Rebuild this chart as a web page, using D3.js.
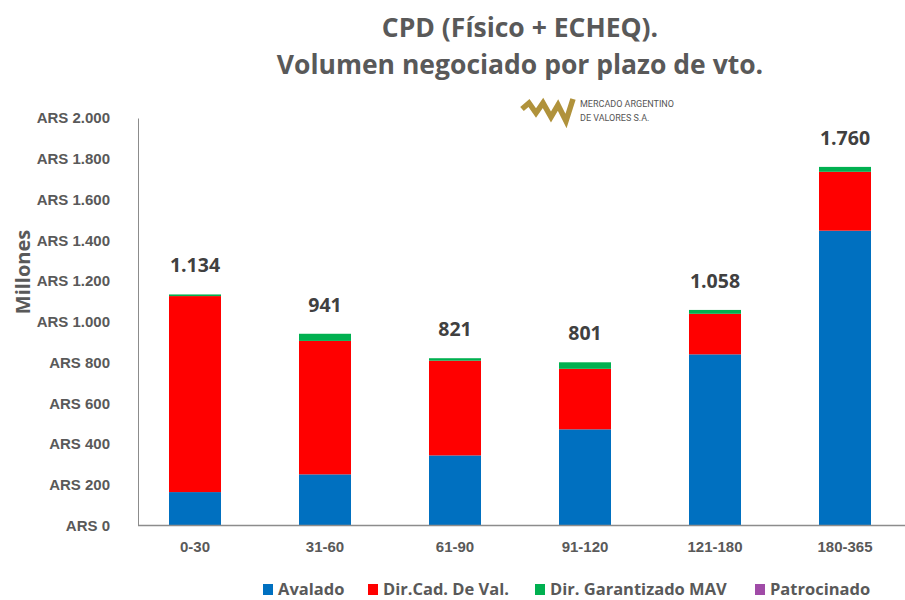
<!DOCTYPE html>
<html>
<head>
<meta charset="utf-8">
<script src="https://cdn.jsdelivr.net/npm/d3@7"></script>
<style>
  body { margin: 0; background: #fff; }
  svg { font-family: "Open Sans", sans-serif; }
</style>
</head>
<body>
<div id="chart"></div>
<script>
// Data (millones de ARS)
const plazos = ["0-30", "31-60", "61-90", "91-120", "121-180", "180-365"];
const avalado = [164, 251, 344, 472, 840, 1447];
const dirCad = [962, 655, 465, 297, 199, 289];
const dirGarantizado = [8, 35, 12, 32, 19, 24];
const patrocinado = [0, 0, 0, 0, 0, 0];
const totales = [1134, 941, 821, 801, 1058, 1760];
const yTicks = [0, 200, 400, 600, 800, 1000, 1200, 1400, 1600, 1800, 2000];

const seriesNames = ["Avalado", "Dir.Cad. De Val.", "Dir. Garantizado MAV", "Patrocinado"];
const seriesColors = ["#0070C0", "#FF0000", "#00B050", "#A04BA7"];

const width = 905, height = 600;

const locale = d3.formatLocale({ decimal: ",", thousands: ".", grouping: [3], currency: ["ARS ", ""] });
const fmt = locale.format(",d");

const svg = d3.select("#chart").append("svg")
  .attr("width", width)
  .attr("height", height);

// table for stacking
const rows = plazos.map((p, i) => ({
  plazo: p,
  "Avalado": avalado[i],
  "Dir.Cad. De Val.": dirCad[i],
  "Dir. Garantizado MAV": dirGarantizado[i],
  "Patrocinado": patrocinado[i],
  total: totales[i]
}));

const x = d3.scaleBand()
  .domain(plazos)
  .range([130, 910])
  .paddingInner(0.6)
  .paddingOuter(0.3);

const y = d3.scaleLinear()
  .domain([0, 2000])
  .range([525.5, 118]);

const color = d3.scaleOrdinal().domain(seriesNames).range(seriesColors);

// Title
const title = svg.append("text")
  .attr("text-anchor", "middle")
  .attr("fill", "#595959")
  .attr("font-weight", "bold")
  .attr("font-size", 26.5);
title.append("tspan").attr("x", 520).attr("y", 37).text("CPD (Físico + ECHEQ).");
title.append("tspan").attr("x", 520).attr("y", 74).text("Volumen negociado por plazo de vto.");

// Logo MAV
const logo = svg.append("g").attr("transform", "translate(521,98)");
logo.append("polyline")
  .attr("points", "1,11 8,5 15,15 22,5 30,19 37,7 45,23 52,1")
  .attr("fill", "none")
  .attr("stroke", "#B0923B")
  .attr("stroke-width", 5.5)
  .attr("stroke-linejoin", "miter");
logo.append("text").attr("x", 59).attr("y", 9).attr("font-size", 9).attr("fill", "#555")
  .attr("font-family", "Roboto, sans-serif").text("MERCADO ARGENTINO");
logo.append("text").attr("x", 59).attr("y", 23).attr("font-size", 9).attr("fill", "#555")
  .attr("font-family", "Roboto, sans-serif").text("DE VALORES S.A.");

// Y axis
const yAxis = svg.append("g")
  .attr("transform", "translate(138,0)")
  .call(d3.axisLeft(y).tickValues(yTicks).tickSize(0).tickPadding(28)
    .tickFormat(d => "ARS " + fmt(d)));
yAxis.select(".domain").attr("stroke", "#8c8c8c").attr("stroke-width", 1);
yAxis.selectAll("text")
  .attr("fill", "#595959")
  .attr("font-weight", "bold")
  .attr("font-size", 15);

// Y axis title
svg.append("text")
  .attr("transform", "translate(30,272) rotate(-90)")
  .attr("text-anchor", "middle")
  .attr("fill", "#595959")
  .attr("font-weight", "bold")
  .attr("font-size", 20)
  .text("Millones");

// Bars
const stack = d3.stack().keys(seriesNames);
const stacked = stack(rows);

svg.append("g")
  .selectAll("g")
  .data(stacked)
  .join("g")
  .attr("fill", d => color(d.key))
  .selectAll("rect")
  .data(d => d)
  .join("rect")
  .attr("x", d => x(d.data.plazo))
  .attr("y", d => y(d[1]))
  .attr("width", x.bandwidth())
  .attr("height", d => y(d[0]) - y(d[1]));

// X axis
const xAxis = svg.append("g")
  .attr("transform", "translate(0,525.5)")
  .call(d3.axisBottom(x).tickSize(0).tickPadding(16));
xAxis.select(".domain").remove();
xAxis.selectAll("text")
  .attr("fill", "#595959")
  .attr("font-weight", "bold")
  .attr("font-size", 15);
svg.append("line")
  .attr("x1", 138).attr("x2", 905)
  .attr("y1", y(0)).attr("y2", y(0))
  .attr("stroke", "#8c8c8c")
  .attr("stroke-width", 1.5);

// Total labels
svg.append("g")
  .selectAll("text")
  .data(rows)
  .join("text")
  .attr("x", d => x(d.plazo) + x.bandwidth() / 2)
  .attr("y", d => y(d.total) - 22)
  .attr("text-anchor", "middle")
  .attr("fill", "#404040")
  .attr("font-weight", "bold")
  .attr("font-size", 19.5)
  .text(d => fmt(d.total));

// Legend
const legendX = [263, 368, 535, 755];
const legend = svg.append("g")
  .selectAll("g")
  .data(seriesNames)
  .join("g")
  .attr("transform", (d, i) => `translate(${legendX[i]},589)`);
legend.append("rect")
  .attr("x", 0).attr("y", -5)
  .attr("width", 10).attr("height", 11)
  .attr("fill", d => color(d));
legend.append("text")
  .attr("x", 15).attr("y", 6)
  .attr("fill", "#595959")
  .attr("font-weight", "bold")
  .attr("font-size", 16.5)
  .text(d => d);
</script>
</body>
</html>
